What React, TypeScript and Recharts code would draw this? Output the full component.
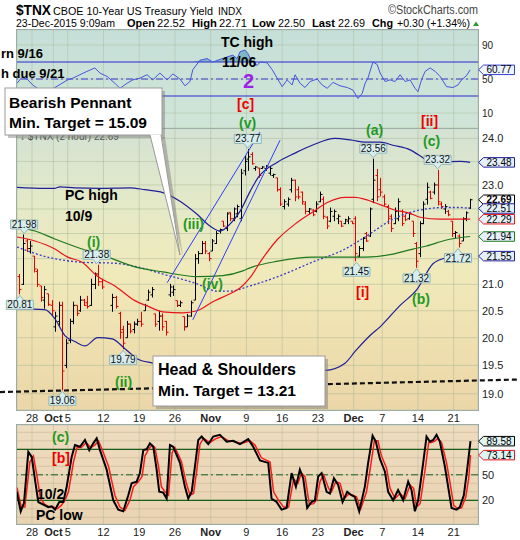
import React from 'react';
import {
  ComposedChart, Line, Area, Bar, XAxis, YAxis, CartesianGrid,
  ReferenceLine, ReferenceDot,
} from 'recharts';

const FONT = '"Liberation Sans", Arial, Helvetica, sans-serif';

// x = trading day counted from Thu 24-Sep-2015 (no bars on 12-Oct, bond market shut)
const X_DOMAIN: [number, number] = [-0.1, 64.4];
const dayTicks = [2, 5, 7, 12, 17, 22, 27, 32, 37, 42, 47, 51, 56, 61];
const dayLabels = ['28', 'Oct', '5', '12', '19', '26', 'Nov', '9', '16', '23', 'Dec', '7', '14', '21'];
const monthLabels = ['Oct', 'Nov', 'Dec'];

const mainTicks = [19, 19.5, 20, 20.5, 21, 21.5, 22, 22.5, 23, 23.5, 24];
const mainTickHidden = [21.5, 22, 22.5, 23.5];
const rsiTicks = [10, 30, 50, 70, 90];
const stochTicks = [20, 50, 80];
const stochMinor = [0, 10, 30, 40, 60, 70, 90, 100];

// 2 hour bars, [x, open, high, low, close]
const priceBars = [
  [0.25, 21.15, 21.2, 20.81, 20.9], [0.75, 21.0, 21.98, 20.99, 21.8],
  [1.25, 21.85, 21.89, 21.63, 21.7], [1.75, 21.7, 21.85, 21.6, 21.75],
  [2.25, 21.55, 21.55, 21.23, 21.3], [2.75, 21.25, 21.3, 20.95, 21.0],
  [3.25, 20.97, 20.97, 20.67, 20.75], [3.75, 20.7, 20.97, 20.54, 20.9],
  [4.25, 20.82, 20.82, 20.59, 20.62], [4.75, 20.6, 20.7, 20.4, 20.5],
  [5.25, 20.2, 20.48, 20.11, 20.4], [5.75, 20.3, 20.67, 20.22, 20.6],
  [6.25, 20.6, 20.67, 19.06, 19.4], [6.75, 19.5, 19.98, 19.45, 19.9],
  [7.25, 19.95, 20.35, 19.9, 20.3], [7.75, 20.3, 20.67, 20.25, 20.6],
  [8.25, 20.6, 20.6, 20.4, 20.45], [8.75, 20.5, 20.78, 20.48, 20.7],
  [9.25, 20.7, 20.72, 20.59, 20.6], [9.75, 20.65, 20.78, 20.54, 20.58],
  [10.25, 20.6, 21.11, 20.59, 21.0], [10.75, 21.0, 21.23, 20.91, 21.2],
  [11.25, 21.2, 21.38, 20.97, 21.05], [11.75, 21.05, 21.11, 20.91, 20.95],
  [13.25, 20.6, 20.82, 20.48, 20.75], [13.75, 20.75, 20.78, 20.54, 20.58],
  [14.25, 20.45, 20.48, 19.98, 20.1], [14.75, 20.15, 20.22, 19.79, 19.9],
  [15.25, 20.0, 20.31, 20.0, 20.25], [15.75, 20.25, 20.26, 20.08, 20.12],
  [16.25, 20.15, 20.3, 20.08, 20.25], [16.75, 20.25, 20.35, 20.22, 20.3],
  [17.25, 20.3, 20.48, 20.2, 20.25], [17.75, 20.5, 20.63, 20.5, 20.6],
  [18.25, 20.7, 20.9, 20.69, 20.85], [18.75, 20.8, 20.95, 20.75, 20.9],
  [19.25, 20.44, 20.44, 20.2, 20.25], [19.75, 20.3, 20.5, 20.13, 20.4],
  [20.25, 20.4, 20.45, 20.13, 20.2], [20.75, 20.3, 20.31, 20.04, 20.1],
  [21.25, 20.8, 21.01, 20.76, 20.95], [21.75, 20.85, 20.98, 20.78, 20.9],
  [22.25, 20.69, 20.69, 20.57, 20.6], [22.75, 20.6, 20.69, 20.57, 20.65],
  [23.25, 20.39, 20.39, 20.13, 20.2], [23.75, 20.2, 20.44, 20.2, 20.4],
  [24.25, 20.4, 20.69, 20.39, 20.65], [24.75, 20.7, 21.59, 20.7, 21.5],
  [25.25, 21.5, 21.65, 21.4, 21.6], [25.75, 21.6, 21.85, 21.59, 21.8],
  [26.25, 21.8, 21.85, 21.59, 21.65], [26.75, 21.6, 21.63, 21.45, 21.5],
  [27.25, 21.65, 21.89, 21.65, 21.85], [27.75, 21.8, 22.05, 21.79, 22.0],
  [28.25, 22.05, 22.1, 22.0, 22.08], [28.75, 22.25, 22.25, 22.13, 22.15],
  [29.25, 22.1, 22.43, 22.05, 22.4], [29.75, 22.43, 22.43, 22.25, 22.3],
  [30.25, 22.3, 22.53, 22.25, 22.5], [30.75, 22.4, 22.59, 22.33, 22.55],
  [31.25, 22.3, 23.34, 22.25, 23.25], [31.75, 23.3, 23.62, 23.2, 23.5],
  [32.25, 23.55, 23.77, 23.3, 23.6], [32.75, 23.65, 23.7, 23.43, 23.45],
  [33.25, 23.35, 23.4, 23.3, 23.38], [33.75, 23.36, 23.36, 23.15, 23.2],
  [34.25, 23.35, 23.4, 23.34, 23.38], [34.75, 23.35, 23.42, 23.3, 23.4],
  [35.25, 23.25, 23.4, 23.2, 23.35], [35.75, 23.2, 23.24, 23.15, 23.22],
  [36.25, 23.15, 23.15, 22.86, 22.9], [36.75, 22.9, 22.95, 22.56, 22.6],
  [37.25, 22.55, 22.7, 22.49, 22.65], [37.75, 22.6, 22.74, 22.55, 22.7],
  [38.25, 22.9, 23.15, 22.84, 23.1], [38.75, 23.1, 23.11, 22.66, 22.75],
  [39.25, 22.9, 22.97, 22.7, 22.75], [39.75, 22.85, 22.86, 22.59, 22.65],
  [40.25, 22.6, 22.66, 22.39, 22.45], [40.75, 22.45, 22.52, 22.39, 22.5],
  [41.25, 22.48, 22.49, 22.35, 22.38], [41.75, 22.45, 22.66, 22.43, 22.6],
  [42.25, 22.65, 22.86, 22.64, 22.8], [42.75, 22.7, 22.76, 22.29, 22.35],
  [43.25, 22.33, 22.35, 22.09, 22.15], [43.75, 22.25, 22.53, 22.23, 22.45],
  [44.25, 22.35, 22.49, 22.25, 22.45], [44.75, 22.3, 22.39, 22.19, 22.35],
  [45.25, 22.25, 22.25, 22.13, 22.15], [45.75, 22.2, 22.3, 22.19, 22.28],
  [46.25, 22.25, 22.35, 22.19, 22.3], [46.75, 22.25, 22.25, 22.19, 22.2],
  [47.25, 22.3, 22.35, 21.45, 21.6], [47.75, 21.55, 21.75, 21.53, 21.7],
  [48.25, 21.7, 21.93, 21.65, 21.9], [48.75, 22.0, 22.03, 21.83, 21.85],
  [49.25, 21.95, 22.53, 21.93, 22.5], [49.75, 22.7, 23.56, 22.62, 23.1],
  [50.25, 23.2, 23.34, 22.66, 22.75], [50.75, 22.9, 23.15, 22.76, 22.85],
  [51.25, 22.75, 22.8, 22.56, 22.6], [51.75, 22.55, 22.59, 22.19, 22.3],
  [52.25, 22.35, 22.39, 22.03, 22.1], [52.75, 22.2, 22.53, 22.19, 22.45],
  [53.25, 22.3, 22.72, 22.25, 22.65], [53.75, 22.45, 22.49, 22.15, 22.2],
  [54.25, 22.35, 22.39, 22.25, 22.28], [54.75, 22.3, 22.43, 22.28, 22.4],
  [55.25, 22.25, 22.25, 21.93, 22.0], [55.75, 21.8, 21.83, 21.32, 21.45],
  [56.25, 21.6, 22.25, 21.53, 22.2], [56.75, 22.2, 22.66, 22.19, 22.6],
  [57.25, 22.7, 23.05, 22.59, 22.95], [57.75, 22.85, 22.88, 22.7, 22.72],
  [58.25, 22.85, 23.05, 22.8, 23.0], [58.75, 23.0, 23.32, 22.57, 22.65],
  [59.25, 22.6, 22.65, 22.5, 22.55], [59.75, 22.5, 22.6, 22.4, 22.55],
  [60.25, 22.45, 22.48, 22.35, 22.38], [60.75, 22.25, 22.25, 21.93, 22.0],
  [61.25, 22.0, 22.05, 21.9, 22.02], [61.75, 21.95, 21.98, 21.72, 21.8],
  [62.25, 21.85, 22.33, 21.85, 22.3], [62.75, 22.3, 22.45, 22.25, 22.42],
  [63.25, 22.52, 22.71, 22.5, 22.69],
];

// overlays, [x, value]
const bbUpper = [
  [-0.1, 22.95], [3.8, 22.93], [5.2, 22.93], [5.9, 22.96], [8, 22.94], [11.5, 22.93],
  [15.7, 22.94], [17.8, 22.9], [20.3, 22.84], [22.7, 22.66], [25.1, 22.39], [26.9, 22.15],
  [28.3, 22.05], [29.7, 22.19], [31.1, 22.45], [32.5, 22.86], [33.6, 23.15], [36.4, 23.49],
  [38.8, 23.68], [41.2, 23.85], [44.4, 24.0], [46.8, 23.96], [48.6, 23.92], [50.7, 23.92],
  [52.5, 23.85], [54.9, 23.75], [56.5, 23.6], [57.2, 23.53], [59.1, 23.49], [61.9, 23.5], [63.3, 23.48],
];
const bbMiddle = [
  [-0.1, 21.73], [4.2, 21.53], [9.0, 21.43], [13.6, 21.41], [16.4, 21.35], [20.3, 21.2],
  [25.1, 21.01], [27.9, 20.87], [29.7, 20.87], [32.5, 20.97], [36.4, 21.15], [41.2, 21.43],
  [45.8, 21.69], [48.6, 21.93], [52.5, 22.29], [54.9, 22.43], [57.2, 22.5], [59.5, 22.53],
  [61.9, 22.53], [63.3, 22.51],
];
const bbLower = [
  [-0.1, 20.54], [3.8, 20.52], [5.2, 20.35], [6.6, 20.04], [8.0, 19.93], [9.4, 19.85],
  [11.2, 20.0], [13.2, 19.98], [15.0, 19.8], [16.7, 19.62], [18.9, 19.54], [22.7, 19.45],
  [26.9, 19.41], [32.5, 19.39], [38.1, 19.39], [43.0, 19.41], [45.8, 19.54], [47.2, 19.75],
  [49.3, 20.04], [50.7, 20.2], [53.5, 20.6], [55.9, 20.91], [58.1, 21.4], [60.0, 21.52],
  [61.8, 21.55], [63.3, 21.55],
];
const maRed = [
  [-0.1, 21.93], [2.4, 21.85], [5.2, 21.69], [7.0, 21.53], [9.0, 21.43], [11.2, 21.15],
  [13.6, 20.97], [16.4, 20.69], [18.1, 20.59], [20.3, 20.48], [23.1, 20.46], [25.1, 20.5],
  [27.3, 20.67], [29.7, 20.82], [31.1, 20.93], [32.5, 21.13], [34.2, 21.49], [36.4, 21.89],
  [38.8, 22.19], [41.2, 22.43], [43.4, 22.64], [45.8, 22.74], [47.2, 22.74], [48.6, 22.7],
  [50.7, 22.59], [52.5, 22.49], [54.9, 22.41], [56.3, 22.33], [59.1, 22.29], [61.9, 22.29], [63.3, 22.29],
];
const maGreen = [
  [-0.1, 22.13], [2.4, 22.05], [5.2, 21.89], [9.0, 21.69], [12.6, 21.53], [16.4, 21.34],
  [20.3, 21.24], [25.1, 21.15], [28.7, 21.17], [31.5, 21.26], [32.5, 21.32], [36.4, 21.45],
  [41.2, 21.53], [45.8, 21.53], [48.6, 21.53], [52.5, 21.59], [55.3, 21.69], [57.2, 21.75],
  [60.0, 21.87], [63.3, 21.94],
];

// pennant channel and H&S neckline, [x, price] end points
const pennantUpper = [[20.9, 21.03], [33.9, 24.14]];
const pennantLower = [[24.5, 20.33], [36.7, 23.96]];
const neckline = [[-2.48, 19.03], [70.25, 19.25]];

const peakTags = [[0.9, 21.98], [11.05, 21.38], [32.2, 23.77], [49.75, 23.56], [58.75, 23.32]];
const lowTags = [[0.3, 20.81], [6.25, 19.06], [14.75, 19.79], [47.4, 21.45], [55.8, 21.32], [61.6, 21.72]];
const sideTagValues = [23.48, 22.69, 22.51, 22.29, 21.94, 21.55];

const rsiPoints = [
  [-0.1, 45], [0.6, 52], [1.3, 50], [2.1, 43], [3.1, 37], [4.1, 35], [5.2, 40], [6.2, 45],
  [7.0, 49], [7.7, 51], [8.7, 55], [9.7, 59], [10.8, 63], [11.5, 57], [12.5, 53], [13.6, 45],
  [14.3, 39], [15.3, 45], [16.1, 49], [17.1, 51], [18.1, 55], [18.9, 49], [19.9, 57], [20.9, 49],
  [21.7, 56], [22.7, 50], [23.4, 42], [24.1, 47], [24.5, 61], [25.5, 72], [26.5, 74], [27.3, 70],
  [28.3, 73], [29.3, 76], [30.1, 78], [30.7, 74], [31.1, 82], [31.8, 84], [32.2, 80], [32.8, 70],
  [33.5, 66], [33.9, 70], [34.9, 69], [35.6, 61], [36.3, 51], [37.0, 41], [37.7, 49], [38.4, 43],
  [38.8, 55], [39.5, 45], [40.2, 40], [40.9, 47], [41.9, 50], [42.6, 43], [43.3, 39], [44.1, 46],
  [45.1, 42], [46.1, 40], [46.9, 37], [47.6, 27], [48.2, 33], [48.6, 45], [49.0, 51], [49.7, 70],
  [50.3, 67], [50.7, 57], [51.4, 47], [52.1, 49], [52.8, 47], [53.5, 55], [54.2, 47], [54.9, 49],
  [55.6, 39], [56.0, 35], [56.5, 49], [57.0, 59], [57.7, 63], [58.4, 59], [59.1, 53], [60.0, 41],
  [60.9, 40], [61.6, 43], [62.1, 49], [62.8, 54], [63.3, 60.77],
];

const stochK = [
  [-0.14, 30], [0.42, 7], [0.88, 17], [1.48, 77], [1.96, 71], [2.42, 44], [2.88, 18], [3.58, 15],
  [4.28, 12], [4.76, 13], [5.22, 9], [5.82, 18], [6.38, 18], [6.85, 36], [7.55, 71], [8.01, 85],
  [8.71, 83], [9.41, 91], [10.01, 79], [10.57, 87], [11.05, 93], [11.51, 79], [12.45, 56], [13.37, 20],
  [14.07, 9], [14.77, 7], [15.47, 26], [15.94, 40], [16.64, 42], [17.1, 52], [17.57, 79], [18.04, 80],
  [18.5, 87], [18.97, 83], [19.44, 56], [19.8, 30], [20.36, 29], [20.84, 22], [21.3, 85], [21.76, 83],
  [22.7, 64], [23.4, 36], [23.86, 22], [24.34, 30], [24.8, 60], [25.26, 91], [25.73, 95], [26.66, 86],
  [27.36, 95], [28.29, 97], [29.23, 89], [30.15, 90], [31.09, 86], [32.25, 92], [32.95, 83], [33.89, 67],
  [35.05, 64], [35.52, 22], [36.22, 18], [36.92, 9], [37.62, 11], [38.32, 52], [38.92, 36], [39.48, 56],
  [39.94, 46], [40.5, 11], [41.12, 18], [41.58, 20], [42.04, 48], [42.52, 52], [43.22, 30], [43.68, 28],
  [44.24, 46], [44.84, 38], [45.45, 18], [46.1, 30], [46.71, 26], [47.17, 24], [47.78, 7], [48.57, 36],
  [49.03, 64], [49.65, 96], [50.11, 89], [50.67, 69], [51.37, 54], [51.83, 30], [52.53, 20], [53.22, 32],
  [53.93, 20], [54.63, 42], [55.1, 32], [55.57, 7], [56.03, 20], [56.73, 64], [57.2, 95], [57.66, 89],
  [58.13, 91], [58.6, 97], [59.06, 89], [59.76, 60], [60.22, 36], [60.7, 11], [61.4, 9], [61.86, 12],
  [62.42, 26], [62.88, 56], [63.35, 89.58],
];
const stochD = [
  [-0.1, 35], [0.5, 12], [1.0, 12], [1.7, 65], [2.2, 72], [2.7, 48], [3.2, 22], [3.8, 15], [4.5, 12],
  [5.0, 12], [5.5, 10], [6.1, 14], [6.6, 20], [7.1, 30], [7.8, 65], [8.3, 82], [8.9, 82], [9.6, 88],
  [10.2, 82], [10.8, 85], [11.3, 90], [11.8, 80], [12.7, 60], [13.6, 26], [14.3, 12], [15.0, 8],
  [15.7, 20], [16.2, 36], [16.9, 42], [17.4, 48], [17.8, 72], [18.3, 80], [18.8, 85], [19.2, 82],
  [19.7, 60], [20.1, 36], [20.6, 30], [21.1, 26], [21.6, 76], [22.0, 82], [22.9, 66], [23.6, 40],
  [24.1, 26], [24.6, 28], [25.0, 52], [25.5, 86], [26.0, 93], [26.9, 88], [27.6, 92], [28.5, 95],
  [29.5, 90], [30.4, 89], [31.3, 87], [32.5, 90], [33.2, 85], [34.1, 70], [35.3, 65], [35.8, 30],
  [36.5, 20], [37.2, 12], [37.9, 12], [38.6, 45], [39.2, 40], [39.7, 52], [40.2, 48], [40.8, 15],
  [41.4, 16], [41.8, 20], [42.3, 42], [42.8, 50], [43.5, 34], [43.9, 30], [44.5, 42], [45.1, 40],
  [45.7, 22], [46.3, 27], [46.9, 26], [47.4, 24], [48.0, 10], [48.8, 30], [49.3, 56], [49.9, 90],
  [50.4, 90], [50.9, 72], [51.6, 58], [52.1, 34], [52.8, 22], [53.5, 28], [54.2, 22], [54.9, 38],
  [55.4, 34], [55.8, 12], [56.3, 16], [57.0, 56], [57.5, 88], [57.9, 88], [58.4, 90], [58.8, 93],
  [59.3, 88], [60.0, 64], [60.5, 40], [61.0, 14], [61.6, 10], [62.1, 11], [62.7, 24], [63.1, 46],
  [63.35, 73.14],
];

const NAVY = '#1f1f99';
const RED = '#e8141c';
const GREEN = '#1e7a1e';
const sideTagColors = [NAVY, '#000', NAVY, RED, GREEN, NAVY];

const pts = (arr: number[][]) => arr.map(([x, v]) => ({ x, v }));
const bars = priceBars.map(([x, o, h, l, c]) => ({ x, o, h, l, c }));

const OhlcShape = (props: any) => {
  const { x, y, width, height, payload } = props;
  if (!payload) return <g />;
  const { o, h, l, c } = payload;
  const top = Math.min(y, y + height);
  const bot = Math.max(y, y + height);
  const span = Math.log(h) - Math.log(l);
  const at = (v: number) => (span > 0 ? top + ((bot - top) * (Math.log(h) - Math.log(v))) / span : top);
  const cx = Math.round(x + width / 2) + 0.5;
  const col = c >= o ? '#000' : '#e60000';
  return (
    <g stroke={col} strokeWidth={1}>
      <line x1={cx} x2={cx} y1={top} y2={Math.max(bot, top + 1)} />
      <line x1={cx - 2} x2={cx} y1={at(o)} y2={at(o)} />
      <line x1={cx} x2={cx + 2} y1={at(c)} y2={at(c)} />
    </g>
  );
};

const PointTag = ({ cx, cy, text, below }: any) => {
  const w = 27, h = 9;
  const tip = below ? cy + 1 : cy - 1;
  const near = below ? cy + 6 : cy - 5.5;
  const far = below ? near + h : near - h;
  const d = `M${cx - w / 2},${far} H${cx + w / 2} V${near} H${cx + 4} L${cx},${tip} L${cx - 4},${near} H${cx - w / 2} Z`;
  return (
    <g>
      <path d={d} fill="#d8eeee" stroke="#93b6b6" strokeWidth={1} />
      <text x={cx} y={Math.min(near, far) + 8} textAnchor="middle" fontSize={10} fill="#111">{text}</text>
    </g>
  );
};

const SideTag = ({ cx, cy, text, color, bold, fill }: any) => {
  const x0 = cx + 0.5, w = 31, h = 9.5;
  const d = `M${x0},${cy} L${x0 + 5},${cy - h / 2} H${x0 + 5 + w} V${cy + h / 2} H${x0 + 5} Z`;
  return (
    <g>
      <path d={d} fill={fill || '#e4f0fa'} stroke={color} strokeWidth={1} />
      <text x={x0 + 5 + w / 2} y={cy + 3.6} textAnchor="middle" fontSize={10} fontWeight={bold ? 'bold' : 'normal'} fill="#000">{text}</text>
    </g>
  );
};

const DateTick = (props: any) => {
  const { x, y, payload } = props;
  const label = dayLabels[dayTicks.indexOf(payload.value)];
  return (
    <text x={x} y={y} dy={9} textAnchor="middle" fontSize={11} fill="#222"
      fontWeight={monthLabels.includes(label) ? 'bold' : 'normal'}>{label}</text>
  );
};

const makeValueTick = (hidden: number[], digits: number, size = 11) => (props: any) => {
  const v = props.payload.value;
  if (hidden.includes(v)) return <g />;
  return <text x={props.x} y={props.y} dy={size * 0.36} textAnchor="start" fontSize={size} fill="#222">{v.toFixed(digits)}</text>;
};

const gridStroke = '#a9b79a';

function RsiPanel() {
  const data = pts(rsiPoints);
  return (
    <ComposedChart width={520} height={98} data={data} margin={{ top: 0, right: 0, bottom: 0, left: 17 }}>
      <CartesianGrid stroke={gridStroke} strokeOpacity={0.45} />
      <XAxis dataKey="x" type="number" domain={X_DOMAIN} allowDataOverflow ticks={dayTicks} hide />
      <YAxis orientation="right" type="number" domain={[-7.6, 107.6]} allowDataOverflow ticks={rsiTicks}
        width={42} axisLine={false} tickLine={false} tickSize={0} tickMargin={4} tick={makeValueTick([], 0, 10)} />
      <Area dataKey={(d: any) => [70, Math.max(70, d.v)]} stroke="none" fill="#74aebf" fillOpacity={0.85}
        isAnimationActive={false} />
      <ReferenceLine y={70} stroke="#2b2bd0" strokeWidth={1.2} />
      <ReferenceLine y={30} stroke="#2b2bd0" strokeWidth={1.2} />
      <ReferenceLine y={50} stroke="#3a3ad0" strokeDasharray="7 3 2 3" />
      <Line dataKey="v" stroke="#4656dc" strokeWidth={1} dot={false} isAnimationActive={false} />
      <ReferenceDot x={X_DOMAIN[1]} y={60.77} ifOverflow="visible"
        shape={(p: any) => <SideTag cx={p.cx} cy={p.cy} text="60.77" color="#3040d0" fill="#eef4ff" />} />
    </ComposedChart>
  );
}

function PricePanel() {
  const seg = (a: number[][]) => [{ x: a[0][0], y: a[0][1] }, { x: a[1][0], y: a[1][1] }];
  return (
    <ComposedChart width={520} height={300} data={bars} margin={{ top: 0, right: 0, bottom: 0, left: 17 }}>
      <CartesianGrid stroke={gridStroke} strokeOpacity={0.5} />
      <XAxis dataKey="x" type="number" domain={X_DOMAIN} allowDataOverflow ticks={dayTicks} interval={0}
        height={18} axisLine={false} tickLine={false} tickSize={0} tickMargin={3} tick={<DateTick />} />
      <YAxis orientation="right" type="number" scale="log" domain={[18.72, 24.23]} allowDataOverflow
        ticks={mainTicks} width={42} axisLine={false} tickLine={false} tickSize={0} tickMargin={4}
        tick={makeValueTick(mainTickHidden, 1)} />
      <Line data={pts(bbUpper)} dataKey="v" type="monotone" stroke={NAVY} strokeWidth={1.2} dot={false} isAnimationActive={false} />
      <Line data={pts(bbLower)} dataKey="v" type="monotone" stroke={NAVY} strokeWidth={1.2} dot={false} isAnimationActive={false} />
      <Line data={pts(bbMiddle)} dataKey="v" type="monotone" stroke="#3a3acc" strokeWidth={1.3} strokeDasharray="2 2" dot={false} isAnimationActive={false} />
      <Line data={pts(maGreen)} dataKey="v" type="monotone" stroke={GREEN} strokeWidth={1.2} dot={false} isAnimationActive={false} />
      <Line data={pts(maRed)} dataKey="v" type="monotone" stroke={RED} strokeWidth={1.2} dot={false} isAnimationActive={false} />
      <ReferenceLine segment={seg(pennantUpper)} stroke="#2a3cff" strokeWidth={1} ifOverflow="visible" />
      <ReferenceLine segment={seg(pennantLower)} stroke="#2a3cff" strokeWidth={1} ifOverflow="visible" />
      <Bar dataKey={(d: any) => [d.l, d.h]} barSize={3} shape={OhlcShape} isAnimationActive={false} />
      <ReferenceLine segment={seg(neckline)} stroke="#111" strokeWidth={2.2} strokeDasharray="5 3" ifOverflow="visible" />
      {peakTags.map(([x, v]) => (
        <ReferenceDot key={'p' + x} x={x} y={v} ifOverflow="visible"
          shape={(p: any) => <PointTag cx={p.cx} cy={p.cy} text={v.toFixed(2)} />} />
      ))}
      {lowTags.map(([x, v]) => (
        <ReferenceDot key={'l' + x} x={x} y={v} ifOverflow="visible"
          shape={(p: any) => <PointTag cx={p.cx} cy={p.cy} text={v.toFixed(2)} below />} />
      ))}
      {sideTagValues.map((v, i) => (
        <ReferenceDot key={'s' + v} x={X_DOMAIN[1]} y={v} ifOverflow="visible"
          shape={(p: any) => (
            <SideTag cx={p.cx} cy={p.cy} text={v.toFixed(2)} color={sideTagColors[i]}
              bold={i === 1} fill={i === 1 ? '#fff' : undefined} />
          )} />
      ))}
    </ComposedChart>
  );
}

function StochPanel() {
  return (
    <ComposedChart width={520} height={115} data={pts(stochK)} margin={{ top: 0, right: 0, bottom: 0, left: 17 }}>
      <CartesianGrid stroke={gridStroke} strokeOpacity={0.45} />
      <XAxis dataKey="x" type="number" domain={X_DOMAIN} allowDataOverflow ticks={dayTicks} interval={0}
        height={16} axisLine={false} tickLine={false} tickSize={0} tickMargin={3} tick={<DateTick />} />
      <YAxis orientation="right" type="number" domain={[-7.9, 108.6]} allowDataOverflow ticks={stochTicks}
        width={42} axisLine={false} tickLine={false} tickSize={0} tickMargin={4} tick={makeValueTick([80], 0)} />
      {stochMinor.map((v) => (
        <ReferenceLine key={v} y={v} stroke="#c9b08c" strokeOpacity={0.55} />
      ))}
      <ReferenceLine y={80} stroke="#1b5e1b" strokeWidth={1.2} />
      <ReferenceLine y={20} stroke="#1b5e1b" strokeWidth={1.2} />
      <ReferenceLine y={50} stroke="#1b5e1b" strokeDasharray="7 3 2 3" />
      <Line data={pts(stochD)} dataKey="v" stroke="#ff1a1a" strokeWidth={1.5} dot={false} isAnimationActive={false} />
      <Line dataKey="v" stroke="#000" strokeWidth={2} dot={false} isAnimationActive={false} />
      <ReferenceDot x={X_DOMAIN[1]} y={89.58} ifOverflow="visible"
        shape={(p: any) => <SideTag cx={p.cx} cy={p.cy} text="89.58" color="#000" fill="#dff3f3" />} />
      <ReferenceDot x={X_DOMAIN[1]} y={73.14} ifOverflow="visible"
        shape={(p: any) => <SideTag cx={p.cx} cy={p.cy} text="73.14" color={RED} fill="#dff3f3" />} />
    </ComposedChart>
  );
}

const panel: React.CSSProperties = {
  position: 'absolute', left: 16, width: 463, boxSizing: 'border-box', border: '1px solid #9aabab',
};

const T = ({ x, y, size = 14, color = '#000', bold = true, len, children }: any) => (
  <text x={x} y={y} fontSize={size} fill={color} fontWeight={bold ? 'bold' : 'normal'}
    textLength={len} lengthAdjust={len ? 'spacingAndGlyphs' : undefined}>{children}</text>
);

function Overlay() {
  const green = '#1f9a1f';
  const red = '#ee0000';
  return (
    <svg width={520} height={540} style={{ position: 'absolute', left: 0, top: 0, pointerEvents: 'none' }}>
      {/* header */}
      <T x={16} y={15} size={15} len={35}>$TNX</T>
      <T x={53} y={15} size={10.7} bold={false} len={160}>CBOE 10-Year US Treasury Yield</T>
      <T x={218} y={15} size={10} bold={false} len={24}>INDX</T>
      <T x={388} y={14} size={12} bold={false} color="#444" len={90}>©StockCharts.com</T>
      <T x={16} y={27} size={11.5} bold={false} len={99}>23-Dec-2015 9:09am</T>
      <T x={127} y={27} size={11.5} len={28}>Open</T>
      <T x={157} y={27} size={11.5} bold={false} len={28}>22.52</T>
      <T x={192} y={27} size={11.5} len={25}>High</T>
      <T x={219} y={27} size={11.5} bold={false} len={28}>22.71</T>
      <T x={252} y={27} size={11.5} len={23}>Low</T>
      <T x={278} y={27} size={11.5} bold={false} len={27}>22.50</T>
      <T x={312} y={27} size={11.5} len={23}>Last</T>
      <T x={338} y={27} size={11.5} bold={false} len={27}>22.69</T>
      <T x={372} y={27} size={11.5} len={21}>Chg</T>
      <T x={397} y={27} size={11.5} bold={false} len={73}>+0.30 (+1.34%)</T>
      <polygon points="473,26 479,26 476,21.5" fill="#2a9a2a" />

      {/* RSI panel notes */}
      <T x={1} y={58} size={13}>rn 9/16</T>
      <T x={1} y={78} size={13}>h due 9/21</T>
      <T x={221} y={47} size={14}>TC high</T>
      <T x={222} y={67} size={14}>11/06</T>
      <T x={243} y={88} size={20} color="#a020e8">2</T>

      {/* price panel notes */}
      <T x={20} y={140} size={10} bold={false} color="#555">↓ $TNX (2 hour) 22.69</T>
      <T x={237} y={109} size={14} color={red}>[c]</T>
      <T x={239} y={128} size={14} color={green}>(v)</T>
      <T x={65} y={200} size={14}>PC high</T>
      <T x={65} y={221} size={14}>10/9</T>
      <T x={87} y={247} size={14} color={green}>(i)</T>
      <T x={183} y={229} size={14} color={green}>(iii)</T>
      <T x={202} y={289} size={14} color={green}>(iv)</T>
      <T x={115} y={387} size={14} color={green}>(ii)</T>
      <T x={366} y={135} size={14} color={green}>(a)</T>
      <T x={421} y={126} size={14} color={red}>[ii]</T>
      <T x={423} y={146} size={14} color={green}>(c)</T>
      <T x={356} y={297} size={14} color={red}>[i]</T>
      <T x={412} y={304} size={14} color={green}>(b)</T>

      {/* bearish pennant callout */}
      <rect x={8} y={91} width={157} height={47} fill="#777" fillOpacity={0.45} />
      <polygon points="153,137 165,137 183,257" fill="#777" fillOpacity={0.45} />
      <rect x={5} y={88} width={157} height={47} fill="#fff" stroke="#9a9a9a" />
      <polygon points="150,134.5 161,134.5 180,255" fill="#fff" />
      <polyline points="150,135 180,255 161,135" fill="none" stroke="#9a9a9a" />
      <T x={9} y={108} size={15.5}>Bearish Pennant</T>
      <T x={9} y={128} size={15.5}>Min. Target = 15.09</T>

      {/* head & shoulders callout */}
      <rect x={156} y={359} width={172} height={50} fill="#777" fillOpacity={0.45} />
      <rect x={153} y={356} width={172} height={50} fill="#fff" stroke="#9a9a9a" />
      <T x={158} y={375} size={16}>Head &amp; Shoulders</T>
      <T x={158} y={396} size={15.5}>Min. Target = 13.21</T>

      {/* stochastic notes */}
      <T x={52} y={442} size={14} color={green}>(c)</T>
      <T x={52} y={463} size={14} color={red}>[b]</T>
      <T x={37} y={499} size={14}>10/2</T>
      <T x={36} y={520} size={14}>PC low</T>
    </svg>
  );
}

export default function App() {
  return (
    <div style={{ position: 'absolute', left: 0, top: 0, width: 520, height: 540, background: '#fff', fontFamily: FONT, overflow: 'hidden' }}>
      <div style={{ ...panel, top: 29, height: 100, background: 'linear-gradient(#c5dfd8, #d0e5d7)' }} />
      <div style={{ ...panel, top: 128, height: 283, background: 'linear-gradient(#d4e2d4 0%, #e3e9c8 25%, #f0eabb 50%, #efe0b0 75%, #ebd6a8 100%)' }} />
      <div style={{ ...panel, top: 424, height: 101, background: 'linear-gradient(#eedcc0, #e9d3b2)' }} />
      <div style={{ position: 'absolute', left: 0, top: 30 }}><RsiPanel /></div>
      <div style={{ position: 'absolute', left: 0, top: 128 }}><PricePanel /></div>
      <div style={{ position: 'absolute', left: 0, top: 425 }}><StochPanel /></div>
      <Overlay />
    </div>
  );
}
